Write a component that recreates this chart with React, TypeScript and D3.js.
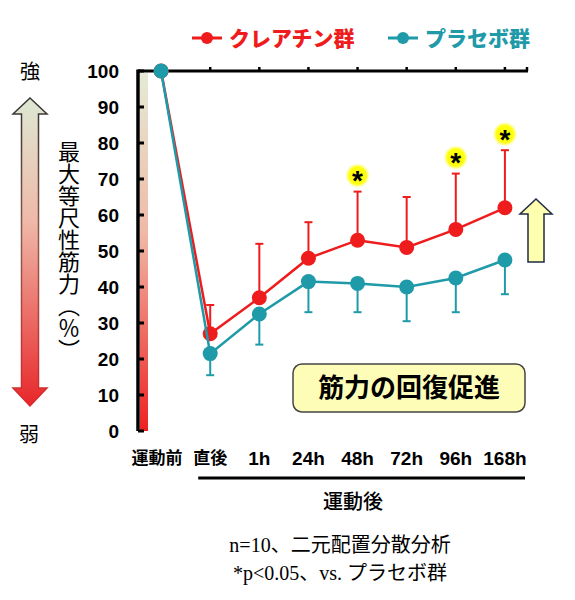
import React from "react";
import * as d3 from "d3";

// timepoints and values (% of pre-exercise strength)
const timepoints = ["運動前", "直後", "1h", "24h", "48h", "72h", "96h", "168h"];
const creatineMean = [100, 27, 37, 48, 53, 51, 56, 62];
const creatineUpper = [100, 35, 52, 58, 66.5, 65, 71.5, 78];
const placeboMean = [100, 21.5, 32.5, 41.5, 41, 40, 42.5, 47.5];
const placeboLower = [100, 15.5, 24, 33, 33, 30.5, 33, 38];
const significant = ["48h", "96h", "168h"];
const yTicks = [0, 10, 20, 30, 40, 50, 60, 70, 80, 90, 100];

const RED = "#ee1c1c";
const TEAL = "#1f9aa8";
const SANS = "'Liberation Sans', Arial, 'Noto Sans CJK JP', sans-serif";
const CJK = "'Noto Sans CJK JP', sans-serif";
const SERIF = "'Liberation Serif', 'DejaVu Serif', 'Noto Sans CJK JP', serif";

export default function App() {
  const width = 575;
  const height = 600;

  const plotLeft = 138;
  const plotRight = 528;
  const plotTop = 71;
  const plotBottom = 431;

  const x = d3.scalePoint<string>().domain(timepoints).range([plotLeft, plotRight]).padding(0.47);
  const y = d3.scaleLinear().domain([0, 100]).range([plotBottom, plotTop]);

  const line = d3
    .line<number>()
    .x((_, i) => x(timepoints[i])!)
    .y((d) => y(d));

  const capW = 4;

  return (
    <svg
      width={width}
      height={height}
      style={{ position: "absolute", left: 0, top: 0, background: "#fff" }}
    >
      <defs>
        <linearGradient id="barGrad" x1="0" y1="0" x2="0" y2="1">
          <stop offset="0%" stopColor="#e4ebd6" />
          <stop offset="45%" stopColor="#f0b8a6" />
          <stop offset="100%" stopColor="#ee2020" />
        </linearGradient>
        <linearGradient id="arrowFill" x1="0" y1="0" x2="0" y2="1">
          <stop offset="0%" stopColor="#dde8d2" />
          <stop offset="40%" stopColor="#efb9a8" />
          <stop offset="100%" stopColor="#e8262a" />
        </linearGradient>
        <linearGradient id="arrowStroke" x1="0" y1="0" x2="0" y2="1">
          <stop offset="0%" stopColor="#333" />
          <stop offset="45%" stopColor="#8a5a50" />
          <stop offset="100%" stopColor="#d8282a" />
        </linearGradient>
        <radialGradient id="glow">
          <stop offset="0%" stopColor="#ffff00" />
          <stop offset="70%" stopColor="#ffff10" />
          <stop offset="100%" stopColor="#ffff80" stopOpacity="0" />
        </radialGradient>
      </defs>

      {/* legend */}
      <g transform="translate(192,38)">
        <line x1={0} x2={30} y1={0} y2={0} stroke={RED} strokeWidth={3} />
        <circle cx={15} cy={0} r={6} fill={RED} />
        <text x={37} y={0} dy="0.36em" fill={RED} fontFamily={CJK} fontWeight={900} fontSize={21}>
          クレアチン群
        </text>
        <line x1={196} x2={226} y1={0} y2={0} stroke={TEAL} strokeWidth={3} />
        <circle cx={211} cy={0} r={6} fill={TEAL} />
        <text x={233} y={0} dy="0.36em" fill={TEAL} fontFamily={CJK} fontWeight={900} fontSize={21}>
          プラセボ群
        </text>
      </g>

      {/* left strength arrow */}
      <path
        d="M30,98 L47,114 L38.5,114 L38.5,388 L47,388 L30,406 L13,388 L21.5,388 L21.5,114 L13,114 Z"
        fill="url(#arrowFill)"
        stroke="url(#arrowStroke)"
        strokeWidth={1.5}
      />
      <text x={30} y={72} dy="0.36em" textAnchor="middle" fontFamily={CJK} fontSize={20}>
        強
      </text>
      <text x={29} y={435} dy="0.36em" textAnchor="middle" fontFamily={CJK} fontSize={20}>
        弱
      </text>

      {/* y-axis title */}
      <text
        x={69}
        y={141}
        fontFamily={CJK}
        fontSize={22}
        style={{ writingMode: "vertical-rl" }}
      >
        最大等尺性筋力（％）
      </text>

      {/* gradient strip inside the y axis */}
      <rect x={plotLeft + 2} y={plotTop + 2} width={8} height={plotBottom - plotTop - 2} fill="url(#barGrad)" />

      {/* axes */}
      <line x1={plotLeft} x2={plotLeft} y1={plotTop - 1.5} y2={plotBottom} stroke="#000" strokeWidth={3.5} />
      <line x1={plotLeft} x2={plotRight} y1={plotTop} y2={plotTop} stroke="#000" strokeWidth={3} />
      {timepoints.slice(1).map((t) => (
        <line key={t} x1={x(t)} x2={x(t)} y1={plotTop} y2={plotTop - 4} stroke="#000" strokeWidth={2.5} />
      ))}
      <line x1={plotRight - 1} x2={plotRight - 1} y1={plotTop} y2={plotTop - 4} stroke="#000" strokeWidth={2.5} />
      {yTicks.map((v) => (
        <g key={v}>
          <line x1={plotLeft} x2={plotLeft + 6} y1={y(v)} y2={y(v)} stroke="#000" strokeWidth={3} />
          <text
            x={119}
            y={y(v)}
            dy="0.36em"
            textAnchor="end"
            fontFamily={SANS}
            fontWeight="bold"
            fontSize={19}
          >
            {v}
          </text>
        </g>
      ))}

      {/* x labels */}
      {timepoints.map((t, i) => (
        <text
          key={t}
          x={x(t)! + (i === 0 ? -4 : 0)}
          y={458}
          dy="0.36em"
          textAnchor="middle"
          fontFamily={i < 2 ? CJK : SANS}
          fontWeight="bold"
          fontSize={i < 2 ? 17 : 19}
        >
          {t}
        </text>
      ))}
      <line x1={x("直後")! - 12} x2={plotRight - 3} y1={478} y2={478} stroke="#000" strokeWidth={3} />
      <text x={353} y={502} dy="0.36em" textAnchor="middle" fontFamily={CJK} fontWeight={500} fontSize={20}>
        運動後
      </text>

      {/* creatine series */}
      {timepoints.slice(1).map((t, k) => {
        const i = k + 1;
        return (
          <g key={t} stroke={RED} strokeWidth={2}>
            <line x1={x(t)} x2={x(t)} y1={y(creatineMean[i])} y2={y(creatineUpper[i])} />
            <line x1={x(t)! - capW} x2={x(t)! + capW} y1={y(creatineUpper[i])} y2={y(creatineUpper[i])} />
          </g>
        );
      })}
      <path d={line(creatineMean) ?? ""} fill="none" stroke={RED} strokeWidth={2.5} />
      {creatineMean.map((v, i) => (
        <circle key={i} cx={x(timepoints[i])} cy={y(v)} r={7.5} fill={RED} />
      ))}

      {/* placebo series */}
      {timepoints.slice(1).map((t, k) => {
        const i = k + 1;
        return (
          <g key={t} stroke={TEAL} strokeWidth={2}>
            <line x1={x(t)} x2={x(t)} y1={y(placeboMean[i])} y2={y(placeboLower[i])} />
            <line x1={x(t)! - capW} x2={x(t)! + capW} y1={y(placeboLower[i])} y2={y(placeboLower[i])} />
          </g>
        );
      })}
      <path d={line(placeboMean) ?? ""} fill="none" stroke={TEAL} strokeWidth={2.5} />
      {placeboMean.map((v, i) => (
        <circle key={i} cx={x(timepoints[i])} cy={y(v)} r={7.5} fill={TEAL} />
      ))}

      {/* significance marks */}
      {significant.map((t) => {
        const i = timepoints.indexOf(t);
        const cy = y(creatineUpper[i]) - 16;
        return (
          <g key={t}>
            <circle cx={x(t)} cy={cy} r={12.5} fill="url(#glow)" />
            <text
              x={x(t)}
              y={cy}
              dy="0.52em"
              textAnchor="middle"
              fontFamily={SANS}
              fontWeight="bold"
              fontSize={28}
            >
              *
            </text>
          </g>
        );
      })}

      {/* right up arrow */}
      <path
        d="M536,199 L552,214 L544,214 L544,262 L528,262 L528,214 L520,214 Z"
        fill="#ffffb0"
        stroke="#1f2a44"
        strokeWidth={1.5}
      />

      {/* callout box */}
      <rect x={293} y={364} width={232} height={48} rx={9} fill="#fdfdb8" stroke="#444" strokeWidth={1.5} />
      <text x={409} y={388} dy="0.36em" textAnchor="middle" fontFamily={CJK} fontWeight="bold" fontSize={26}>
        筋力の回復促進
      </text>

      {/* footnotes */}
      <text x={340} y={545} dy="0.36em" textAnchor="middle" fontFamily={SERIF} fontSize={20}>
        n=10、二元配置分散分析
      </text>
      <text x={340} y={573} dy="0.36em" textAnchor="middle" fontFamily={SERIF} fontSize={20}>
        *p&lt;0.05、vs. プラセボ群
      </text>
    </svg>
  );
}
